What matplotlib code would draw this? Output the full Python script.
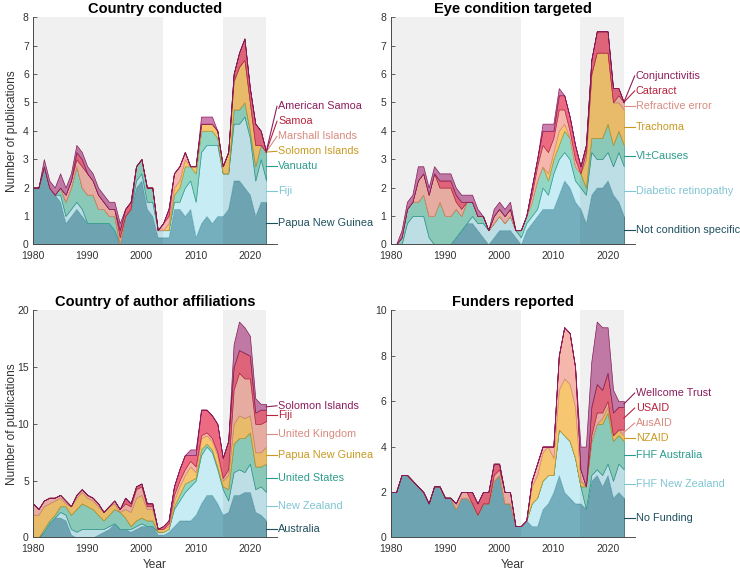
"""Stacked yearly publication counts, four panels with right-side labels."""

import matplotlib
matplotlib.use("Agg")
import matplotlib.pyplot as plt
import numpy as np

plt.rcParams["font.family"] = ["Liberation Sans", "DejaVu Sans"]

YEARS = np.arange(1980, 2024)

# ---- Country conducted (bottom -> top)
CC_LABELS = ["Papua New Guinea", "Fiji", "Vanuatu", "Solomon Islands",
             "Marshall Islands", "Samoa", "American Samoa"]
CC_PNG = [2, 2, 2.75, 2, 1.75, 1.5, .75, 1, 1.25, 1, .75, .75, .75, .75, .75, .5, 0, 1, 1.25, 2, 2.25, 1.25,
          1, .25, .25, .25, 1.25, 1.25, 1, 1.25, .25, .75, 1, .75, 1, 1, 1.25, 2.25, 2.25, 2, 1.75, 1, 1.5, 1.5]
CC_FIJI = [0, 0, 0, 0, 0, .25, .25, .25, .25, .25, 0, 0, 0, 0, 0, 0, 0, 0, 0, .25, .25, .25,
           .5, .25, .25, .25, .25, .25, 1, 1, 1.25, 2.5, 2.5, 2.75, 2.5, 1.5, 1.25, 2, 2, 2.5, 2, 1.25, 1.5, .75]
CC_VANUATU = [0, 0, 0, 0, 0, .25, .5, .75, 1.25, .75, 1, 1, .5, .5, .25, .5, 0, 0, 0, .5, .5, .5,
              .5, 0, 0, 0, .25, .5, .75, .5, 1, .75, .5, .5, .25, 0, 0, .5, .5, .5, .25, .5, .5, 1]
CC_SOLOMON = [0] * 25 + [.25, .25, .25, .25, 0, .25, .25, .25, .25, .25, .25, .75, 1, 1.5, 1.5, 1, .75, 0, 0]
CC_MARSHALL = [0, 0, 0, 0, 0, 0, .25, .25, .25, .75, .75, .5, .5, .25, .25, .25, .25, 0, 0, 0, 0, 0,
               0, 0, .25, .25, .5, .5, .25] + [0] * 15
CC_SAMOA = [0] * 8 + [.25, .25, 0, 0, 0, 0, 0, 0, .25, .25, .25, 0, 0, 0, 0, 0, 0, .25,
                      0, 0, 0, 0, 0, 0, 0, 0, 0, 0, 0, .25, .5, .75, .5, .75, .5, 0]
CC_AMSAMOA = [0, 0, .25, .25, .25, .5, .25, .25, .25, .25, .25, .25, .25, .25, .25, .25, .25] + [0] * 14 \
    + [.25, .25, .25] + [0] * 10

# ---- Eye condition targeted
EC_LABELS = ["Not condition specific", "Diabetic retinopathy", "VI\u00b1Causes", "Trachoma",
             "Refractive error", "Cataract", "Conjunctivitis"]
EC_NCS = [0] * 12 + [.25, .5, .75, .75, .5, .25, 0, .25, .5, .5, .5, .25,
                     0, .5, .75, 1, 1.25, 1.25, 1.25, 1.75, 2.25, 2, 1.5, 1.25, .75, 1.75, 2, 2, 2.25, 1.75, 1.5, 1]
EC_DR = [0, 0, 0, .75, 1, 1, 1, .25, 0, 0, 0, 0, 0, 0, 0, .25, .25, .5, .5, .5, .5, .25, .5, .25,
         .25, .25, .25, .25, .75, .5, 1.25, 1.25, 1, 1, .75, .75, 1, 1.5, 1, 1, 1, 1, 1.75, 1.75]
EC_VI = [0, 0, .25, .5, .5, .5, .75, .75, 1, 1.5, 1, 1, 1, .5, .75, .5, .25, .25, 0, 0, 0, 0, 0, 0,
         .25, .25, .5, 1, .75, .5, .5, .5, .75, .75, .5, .5, .25, .5, .75, .75, 1, .75, .75, .75]
EC_TRACHOMA = [0] * 29 + [.25, .25, .5, .25, 0, 0, 0, 1, 2.25, 3, 3, 2.5, 1.5, 1, 1.25]
EC_REFRACTIVE = [0, 0, 0, 0, 0, .75, .75, .75, 1.5, .5, 1, 1, .25, .25, 0, 0, 0, 0, 0, .25, .25, .25, .25, 0,
                 0, 0, .25, .5, .75, .75, .5, .75, .5, .25, .25, 0, .25, 0, 0, 0, 0, 0, .25, .25]
EC_CATARACT = [0] * 9 + [.25, .25, .25, .25, .25] + [0] * 12 \
    + [.25, .25, .5, .75, .25, .5, .5, .5, .5, .25, .25, .5, .75, .75, .75, .5, .25, 0]
EC_CONJ = [0, 0, .25, .25, .25, .5, .25, .25, .25, .25, .25, .25, .25, .25, .25, .25, .25, 0, 0,
           .25, .25, .25, .25, 0, 0, 0, 0, 0, .25, .25, .25, .25] + [0] * 12

# ---- Country of author affiliations
AF_LABELS = ["Australia", "New Zealand", "United States", "Papua New Guinea",
             "United Kingdom", "Fiji", "Solomon Islands"]
AF_AUS = [0, 0, .5, 1.25, 1.75, 1.75, 1.5, .25, 0, 0, 0, 0, .25, .5, .75, 1.25, .75, .75, .5, .75, 1, 1, 1, .25,
          .25, .5, 1, 1.5, 1.5, 1.5, 2, 3, 3.75, 3.75, 3, 2, 2.25, 3.75, 3.75, 4, 4, 2.25, 2, 1.5]
AF_NZ = [0, 0, 0, 0, 0, .5, .5, .5, .5, .75, .75, .75, .5, .25, .25, 0, 0, 0, .25, .25, .25, 0, 0, .25,
         .25, .25, 1.5, 1.75, 2.5, 3, 3, 4.25, 4.25, 3.75, 3, 2.25, 1, 2, 2.25, 1.75, 2.5, 2, 2.5, 2.5]
AF_US = [0, 0, .25, .25, .25, .5, .75, 1.25, 2, 2.25, 2, 1.75, 1.25, .75, 1, 1.25, 1.5, 1, .25, .5, .5, .5, .5, 0,
         0, 0, .25, .5, .75, .5, .25, .5, .25, .25, .25, .25, 1, 2.5, 2.75, 3, 2.75, 2, 1.75, 2.5]
AF_PNG = [2, 2, 2, 1.5, 1.25, .75, .25, .75, 1, 1, .75, .75, .75, .75, .75, .5, 0, .75, 1.25, 2, 2, 1, 1, .25,
          .25, .25, .5, .75, .75, 1.25, .5, 1, .75, .75, 1, .5, 1.25, 1.75, 2, 1.75, 1.5, 1.25, 1.25, 1.5]
AF_UK = [1, .5, .5, .5, .25, .25, .25, 0, .25, .25, .25, .25, .25, 0, 0, .25, .25, .5, .5, .75, .75, .25, .25, 0,
         0, .25, .5, .5, .5, .5, .5, .25, .25, .25, .25, .25, .5, 3, 3.75, 3.5, 3.25, 2.5, 2.5, 2.25]
AF_FIJI = [0] * 17 + [.5, .25, .25, .25, .25, .25, 0,
                      .25, .25, .75, 1, 1.25, .5, 1, 2.25, 2, 2, 2.5, 1.75, 2.5, 2, 2, 2.25, 2, 1, 1.25, 1]
AF_SOLOMON = [0] * 29 + [.5, .5, 0, 0, 0, 0, 0, 0, 2, 2.5, 2.25, 1.75, 1.25, .5, .5]

# ---- Funders reported
FU_LABELS = ["No Funding", "FHF New Zealand", "FHF Australia", "NZAID",
             "AusAID", "USAID", "Wellcome Trust"]
FU_NONE = [2, 2, 2.75, 2.75, 2.5, 2.25, 2, 1.5, 2.25, 2.25, 1.75, 1.75, 1.25, 1.75, 1.75, 1.5, 1, 1.5, 1.5,
           2.5, 2.75, 1.5, 1.5, .5, .5, .75, .5, .5, 1.25, 1.5, 2, 2.75, 2, 1.75, 1.5, 1.5, 1.25, 2.5, 2.75,
           2.25, 2.75, 1.75, 2, 1.75]
FU_FHFNZ = [0] * 26 + [1, 1.25, 1.25, 1.25, .75, 2, 2.5, 2.5, 2, .75, 0, .25, .25, .5, .5, .75, 1.25, 1.25]
FU_FHFAUS = [0] * 36 + [1, 1.5, 2, 2.25, 2.25, 1.75, 1.25, 1.25]
FU_NZAID = [0] * 26 + [.75, 1, 1.25, 1.25, .75, 1.75, 2.5, 2.5, 2.25, .25, 0, 0, 0, .25, .25, .25, .25, .25]
FU_AUSAID = [0] * 12 + [.25, .25, .25, 0, 0, 0, 0, .25, .25, .5, .5, 0, 0, 0,
                        .25, .5, .25, 0, .5, 1.5, 2.25, 2.25, 1.75, .5, 0, .25, .5, .25, .25, 0, 0, .25]
FU_USAID = [0] * 15 + [.5, .5, .5, .5, .5, .25] + [0] * 16 + [1.25, 1.25, 1, 1.25, 1, 1, 1]
FU_WELLCOME = [0] * 35 + [1, 1.75, 2, 2.75, 2.75, 2, 1, .25, .25]

FILLS = ["#75aebd", "#c8ecf3", "#93d6c4", "#f6c770", "#f5b6ac", "#ec6b82", "#cd80b0"]
INKS = ["#1e4f5e", "#7fc5d3", "#2b9c8c", "#c99a22", "#d88b80", "#b8233d", "#8c1d5c"]

PANELS = [
    ("Country conducted", CC_LABELS,
     [CC_PNG, CC_FIJI, CC_VANUATU, CC_SOLOMON, CC_MARSHALL, CC_SAMOA, CC_AMSAMOA], 8, 1, 0.066),
    ("Eye condition targeted", EC_LABELS,
     [EC_NCS, EC_DR, EC_VI, EC_TRACHOMA, EC_REFRACTIVE, EC_CATARACT, EC_CONJ], 8, 1, 0.066),
    ("Country of author affiliations", AF_LABELS,
     [AF_AUS, AF_NZ, AF_US, AF_PNG, AF_UK, AF_FIJI, AF_SOLOMON], 20, 5, 0.042),
    ("Funders reported", FU_LABELS,
     [FU_NONE, FU_FHFNZ, FU_FHFAUS, FU_NZAID, FU_AUSAID, FU_USAID, FU_WELLCOME], 10, 2, 0.066),
]

AX_POS = [(0.0446, 0.572, 0.3297, 0.398), (0.528, 0.572, 0.3297, 0.398),
          (0.0446, 0.0587, 0.3297, 0.398), (0.528, 0.0587, 0.3297, 0.398)]


def _draw_panel(ax, title, labels, series, ymax, ystep, gap_frac, left, bottom):
    base = np.zeros(len(YEARS))
    anchors = []
    for i, s in enumerate(series):
        s = np.asarray(s, float)
        top = base + s
        ax.fill_between(YEARS, base, top, facecolor=FILLS[i], edgecolor=INKS[i],
                        linewidth=0.5, zorder=2)
        anchors.append(base[-1] + s[-1] / 2)
        base = top

    for x0, x1 in [(1980, 2004), (2015, 2023)]:
        ax.axvspan(x0, x1, color="k", alpha=0.06, lw=0, zorder=3)

    # push labels upward so they keep a minimum spacing
    gap = gap_frac * ymax
    label_y, prev = [], -np.inf
    for a in anchors:
        y = max(a, prev + gap)
        label_y.append(y)
        prev = y
    for i, (a, y) in enumerate(zip(anchors, label_y)):
        ax.plot([2023, 2025], [a, y], color=INKS[i], lw=0.8, clip_on=False, zorder=4)
        ax.text(2025.2, y, labels[i], color=INKS[i], fontsize=7.8, va="center",
                ha="left", clip_on=False)

    ax.set_xlim(1980, 2025)
    ax.set_ylim(0, ymax)
    ax.set_xticks([1980, 1990, 2000, 2010, 2020])
    ax.set_yticks(np.arange(0, ymax + ystep / 2, ystep))
    for side in ("top", "right"):
        ax.spines[side].set_visible(False)
    for side in ("left", "bottom"):
        ax.spines[side].set_color("#4d4d4d")
        ax.spines[side].set_linewidth(0.7)
    ax.tick_params(direction="in", length=3, width=0.6, colors="#4d4d4d",
                   labelsize=7.5, labelcolor="#333333")
    ax.tick_params(axis="x", pad=5)
    ax.tick_params(axis="y", pad=3)
    ax.set_title(title, fontsize=10.5, fontweight="bold", pad=3)
    if left:
        ax.set_ylabel("Number of publications", fontsize=8.6, color="#333333")
        ax.yaxis.set_label_coords(-0.06, 0.5)
    if bottom:
        ax.set_xlabel("Year", fontsize=8.6, color="#333333", labelpad=3)


fig = plt.figure(figsize=(7.4, 5.71), dpi=100)
for k, (panel, pos) in enumerate(zip(PANELS, AX_POS)):
    ax = fig.add_axes(pos)
    _draw_panel(ax, *panel, left=(k % 2 == 0), bottom=(k >= 2))

fig.savefig("out.png", dpi=100)
